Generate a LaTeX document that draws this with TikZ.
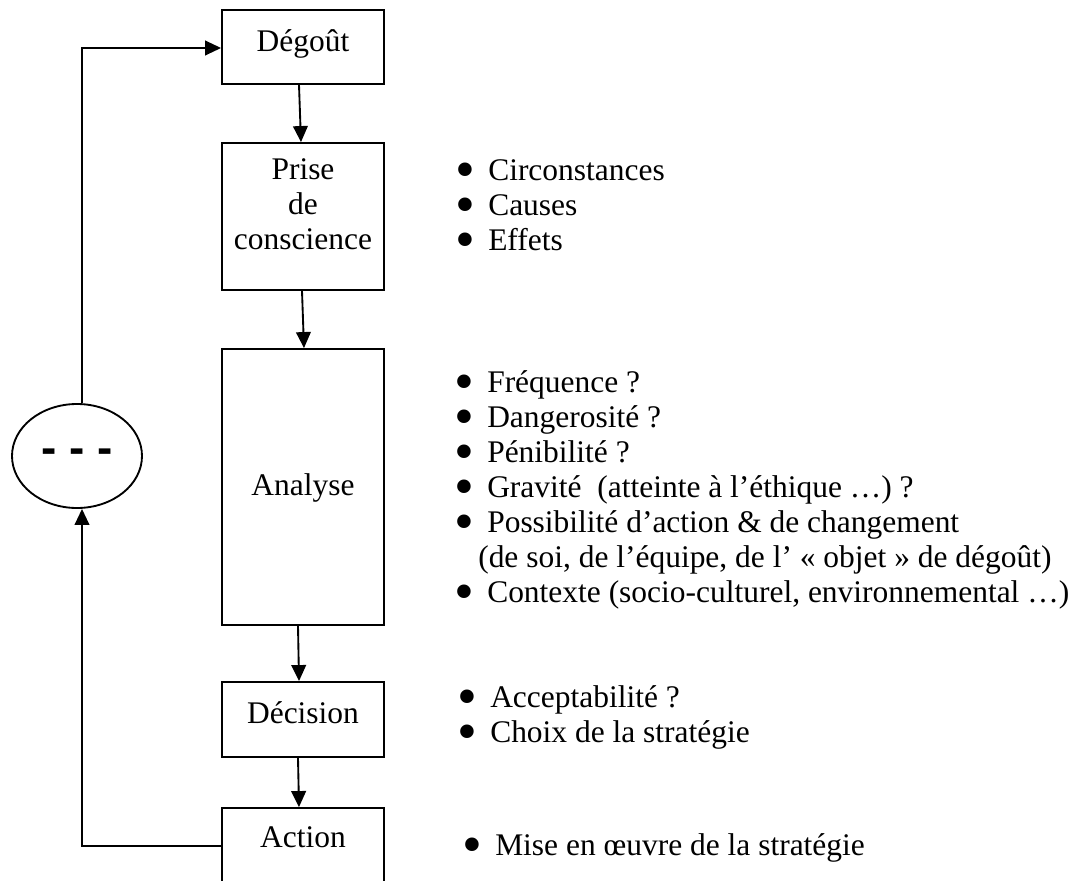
\documentclass[tikz,border=0pt]{standalone}
\usepackage{fontspec}
\usepackage{graphicx}
\setmainfont{Liberation Serif}
\newfontfamily\dashfont{Liberation Sans}
\usetikzlibrary{arrows.meta,shapes.geometric}
\newcommand{\bul}{\makebox[0pt][r]{\smash{\raisebox{-6pt}{\scalebox{1.8}{\textbullet}}}\hspace{10pt}}}
\tikzset{
  box/.style={draw, line width=1.4pt, minimum width=121.5pt, inner sep=0pt},
  lbl/.style={anchor=base, inner sep=0pt, font=\fontsize{23.6}{28}\selectfont},
  itm/.style={anchor=base west, inner sep=0pt, font=\fontsize{23.6}{28}\selectfont},
  arr/.style={line width=1.4pt, -{Triangle[length=12pt,width=11pt]}},
}
\begin{document}
\begin{tikzpicture}[x=0.75pt, y=-0.75pt]
\clip (0,0) rectangle (1082,881);
\fill[white] (0,0) rectangle (1082,881);
% boxes
\node[box, minimum height=55.5pt] (deg) at (303,47) {};
\node[box, minimum height=110.25pt] (prise) at (303,216.5) {};
\node[box, minimum height=207pt] (ana) at (303,487) {};
\node[box, minimum height=56.25pt] (dec) at (303,719.5) {};
\node[box, minimum height=91.5pt] (act) at (303,869) {};
% box labels
\node[lbl] (tdeg) at (303,52) {Dégoût};
\node[lbl] (tprise1) at (303,179) {Prise};
\node[lbl] (tprise2) at (303,214) {de};
\node[lbl] (tprise3) at (303,249) {conscience};
\node[lbl] (tana) at (303,495) {Analyse};
\node[lbl] (tdec) at (303,723) {Décision};
\node[lbl] (tact) at (303,847) {Action};
% ellipse
\node[draw, ellipse, line width=1.4pt, minimum width=97.5pt, minimum height=78pt, inner sep=0pt] (ell) at (77,456)
  {\dashfont\bfseries\fontsize{34.4}{34.4}\selectfont - - -};
% arrows down
\draw[arr] ([xshift=-3pt]deg.south) -- ([xshift=-1.5pt]prise.north);
\draw[arr] ([xshift=-0.75pt]prise.south) -- ([xshift=0.75pt]ana.north);
\draw[arr] ([xshift=-3.75pt]ana.south) -- ([xshift=-3pt]dec.north);
\draw[arr] ([xshift=-3.75pt]dec.south) -- ([xshift=-3pt]act.north);
% feedback loop
\coordinate (c1) at (82,846);
\coordinate (c2) at (82,48);
\draw[arr] (act.west |- c1) -- (c1) -- (ell.south -| c1);
\draw[arr] (ell.north -| c2) -- (c2) -- (deg.west |- c2);
% bullet lists
\node[itm] (i1) at (488,180) {\bul Circonstances};
\node[itm] (i2) at (488,215) {\bul Causes};
\node[itm] (i3) at (488,250) {\bul Effets};
\node[itm] (a1) at (487,392) {\bul Fréquence ?};
\node[itm] (a2) at (487,427) {\bul Dangerosité ?};
\node[itm] (a3) at (487,462) {\bul Pénibilité ?};
\node[itm] (a4) at (487,497) {\bul Gravité\ \ (atteinte à l’éthique …) ?};
\node[itm] (a5) at (487,532) {\bul Possibilité d’action \& de changement};
\node[itm] (a6) at (478,567) {(de soi, de l’équipe, de l’ « objet » de dégoût)};
\node[itm] (a7) at (487,602) {\bul Contexte (socio-culturel, environnemental …)};
\node[itm] (d1) at (490,707) {\bul Acceptabilité ?};
\node[itm] (d2) at (490,742) {\bul Choix de la stratégie};
\node[itm] (m1) at (495,855) {\bul Mise en œuvre de la stratégie};
\end{tikzpicture}
\end{document}
